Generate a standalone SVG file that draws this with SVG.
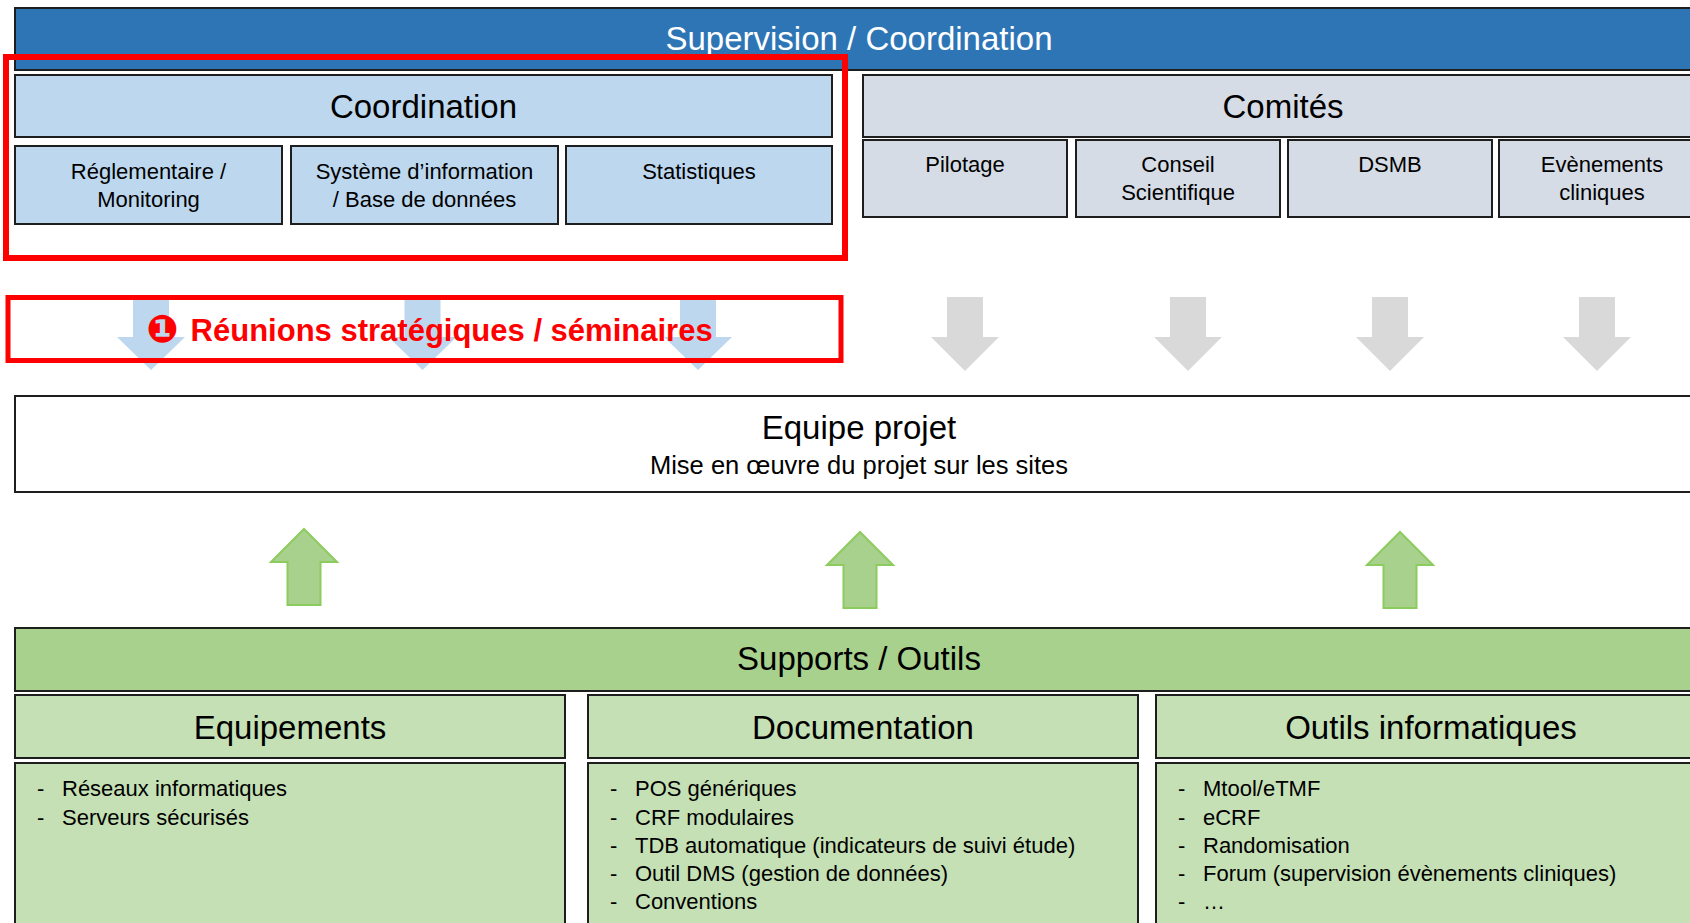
<svg xmlns="http://www.w3.org/2000/svg" width="1690" height="923" viewBox="0 0 1690 923">
<style>
text{font-family:"Liberation Sans",Arial,sans-serif;fill:#000;text-anchor:middle}
.box{stroke:#1e1e1e;stroke-width:2}
.blue{fill:#2E75B6}
.lb{fill:#BDD7EE}
.gr{fill:#D6DCE5}
.g1{fill:#A9D18E}
.g2{fill:#C5E0B4}
.h{font-size:33px}
.s{font-size:22px}
.it{font-size:22px;text-anchor:start}
.redbox{fill:none;stroke:#FF0000}
.adown{fill:#D9D9D9}
.ablue{fill:#BDD7EE}
.aup{fill:#A9D18E;stroke:#8CCB5E;stroke-width:2}
</style>
<rect width="1690" height="923" fill="#fff"/>

<g id="connectors">
  <polygon class="ablue" points="133,300 169,300 169,337 185,337 151,370 117,337 133,337"/>
  <polygon class="ablue" points="404.5,300 440.5,300 440.5,337 456.5,337 422.5,370 388.5,337 404.5,337"/>
  <polygon class="ablue" points="680,300 716,300 716,337 732,337 698,370 664,337 680,337"/>
  <polygon class="adown" points="947,297 983,297 983,337 999,337 965,371 931,337 947,337"/>
  <polygon class="adown" points="1170,297 1206,297 1206,337 1222,337 1188,371 1154,337 1170,337"/>
  <polygon class="adown" points="1372,297 1408,297 1408,337 1424,337 1390,371 1356,337 1372,337"/>
  <polygon class="adown" points="1579,297 1615,297 1615,337 1631,337 1597,371 1563,337 1579,337"/>
  <polygon class="aup" points="304,529 337,562 320.5,562 320.5,605 287.5,605 287.5,562 271,562"/>
  <polygon class="aup" points="860,532 893,565 876.5,565 876.5,608 843.5,608 843.5,565 827,565"/>
  <polygon class="aup" points="1400,532 1433,565 1416.5,565 1416.5,608 1383.5,608 1383.5,565 1367,565"/>
</g>

<g id="supervision">
  <rect class="box blue" x="15" y="8" width="1700" height="62"/>
  <text class="h" x="859" y="50" style="fill:#fff">Supervision / Coordination</text>
</g>

<g id="coordination">
  <rect class="box lb" x="15" y="75" width="817" height="62"/>
  <text class="h" x="423.5" y="118">Coordination</text>
</g>
<g id="reglementaire">
  <rect class="box lb" x="15" y="146" width="267" height="78"/>
  <text class="s" x="148.5" y="179">Réglementaire /</text>
  <text class="s" x="148.5" y="207">Monitoring</text>
</g>
<g id="systeme">
  <rect class="box lb" x="291" y="146" width="267" height="78"/>
  <text class="s" x="424.5" y="179">Système d’information</text>
  <text class="s" x="424.5" y="207">/ Base de données</text>
</g>
<g id="statistiques">
  <rect class="box lb" x="566" y="146" width="266" height="78"/>
  <text class="s" x="699" y="179">Statistiques</text>
</g>

<g id="comites">
  <rect class="box gr" x="863" y="75" width="850" height="62"/>
  <text class="h" x="1283" y="118">Comités</text>
</g>
<g id="pilotage">
  <rect class="box gr" x="863" y="140" width="204" height="77"/>
  <text class="s" x="965" y="172">Pilotage</text>
</g>
<g id="conseil">
  <rect class="box gr" x="1076" y="140" width="204" height="77"/>
  <text class="s" x="1178" y="172">Conseil</text>
  <text class="s" x="1178" y="200">Scientifique</text>
</g>
<g id="dsmb">
  <rect class="box gr" x="1288" y="140" width="204" height="77"/>
  <text class="s" x="1390" y="172">DSMB</text>
</g>
<g id="evenements">
  <rect class="box gr" x="1499" y="140" width="208" height="77"/>
  <text class="s" x="1602" y="172">Evènements</text>
  <text class="s" x="1602" y="200">cliniques</text>
</g>

<g id="highlight-coordination">
  <rect class="redbox" x="6" y="57" width="839" height="201" stroke-width="6"/>
</g>

<g id="reunions">
  <rect class="redbox" x="8" y="297.5" width="833" height="63" stroke-width="5"/>
  <text x="182" y="341" style="font-size:31px;font-weight:bold;fill:#FF0000;text-anchor:start"><tspan x="146.5" y="342" style="font-family:'DejaVu Sans',sans-serif;font-size:38px">❶</tspan><tspan x="182" y="341"> Réunions stratégiques / séminaires</tspan></text>
</g>

<g id="equipe">
  <rect class="box" x="15" y="396" width="1700" height="96" fill="#fff"/>
  <text class="h" x="859" y="439">Equipe projet</text>
  <text x="859" y="474" style="font-size:25.5px">Mise en œuvre du projet sur les sites</text>
</g>

<g id="supports">
  <rect class="box g1" x="15" y="628" width="1700" height="63"/>
  <text class="h" x="859" y="670">Supports / Outils</text>
</g>

<g id="equipements">
  <rect class="box g2" x="15" y="695" width="550" height="63"/>
  <text class="h" x="290" y="739">Equipements</text>
  <rect class="box g2" x="15" y="763" width="550" height="180"/>
  <text class="it" x="37" y="796">-</text><text class="it" x="62" y="796">Réseaux informatiques</text>
  <text class="it" x="37" y="824.5">-</text><text class="it" x="62" y="824.5">Serveurs sécurisés</text>
</g>

<g id="documentation">
  <rect class="box g2" x="588" y="695" width="550" height="63"/>
  <text class="h" x="863" y="739">Documentation</text>
  <rect class="box g2" x="588" y="763" width="550" height="180"/>
  <text class="it" x="610" y="796">-</text><text class="it" x="635" y="796">POS génériques</text>
  <text class="it" x="610" y="824.5">-</text><text class="it" x="635" y="824.5">CRF modulaires</text>
  <text class="it" x="610" y="853">-</text><text class="it" x="635" y="853">TDB automatique (indicateurs de suivi étude)</text>
  <text class="it" x="610" y="881">-</text><text class="it" x="635" y="881">Outil DMS (gestion de données)</text>
  <text class="it" x="610" y="909">-</text><text class="it" x="635" y="909">Conventions</text>
</g>

<g id="outils">
  <rect class="box g2" x="1156" y="695" width="550" height="63"/>
  <text class="h" x="1431" y="739">Outils informatiques</text>
  <rect class="box g2" x="1156" y="763" width="550" height="180"/>
  <text class="it" x="1178" y="796">-</text><text class="it" x="1203" y="796">Mtool/eTMF</text>
  <text class="it" x="1178" y="824.5">-</text><text class="it" x="1203" y="824.5">eCRF</text>
  <text class="it" x="1178" y="853">-</text><text class="it" x="1203" y="853">Randomisation</text>
  <text class="it" x="1178" y="881">-</text><text class="it" x="1203" y="881">Forum (supervision évènements cliniques)</text>
  <text class="it" x="1178" y="909">-</text><text class="it" x="1203" y="909">…</text>
</g>
</svg>
